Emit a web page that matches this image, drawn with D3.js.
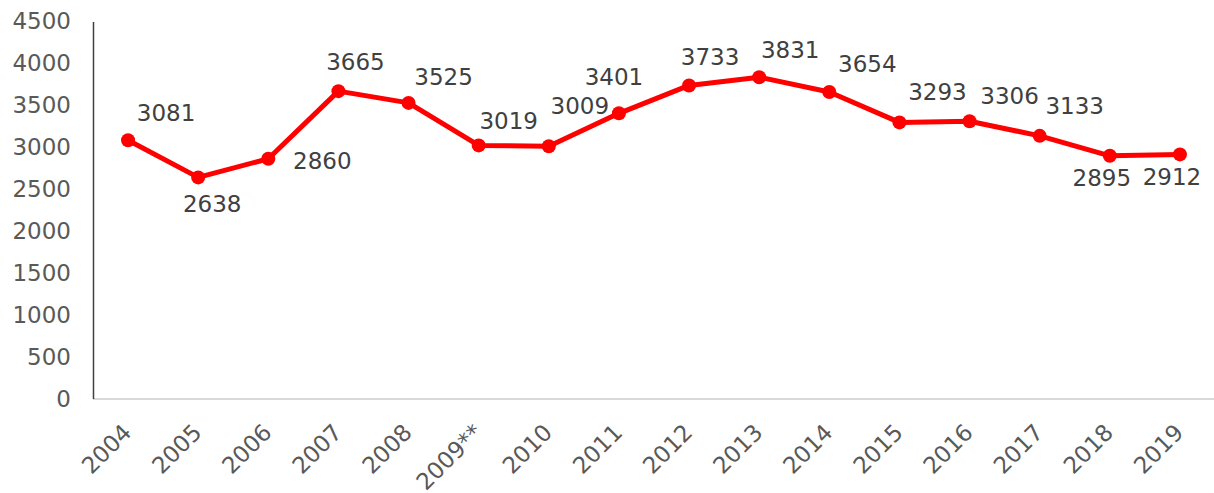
<!DOCTYPE html>
<html><head><meta charset="utf-8">
<script src="https://cdn.jsdelivr.net/npm/d3@7"></script>
<style>body{margin:0;background:#fff;} text{font-family:"DejaVu Sans",Verdana,sans-serif;}</style>
</head><body>
<svg id="c" width="1214" height="493"></svg>
<script>
(function(){
const years = ["2004","2005","2006","2007","2008","2009**","2010","2011","2012","2013","2014","2015","2016","2017","2018","2019"];
const values = [3081,2638,2860,3665,3525,3019,3009,3401,3733,3831,3654,3293,3306,3133,2895,2912];
const yTicks = [0,500,1000,1500,2000,2500,3000,3500,4000,4500];
// label offsets (dx, dy) relative to each point
const labelDx = [38,14,54,17,35,30,31,-5,21,31,38,38,40,35,-8,-8];
const labelDy = [-27,26,2,-29,-26,-25,-41,-37,-29,-27,-28,-31,-26,-30,22,22];

const svg = d3.select("#c");
const mLeft = 93, mRight = 1215, mTop = 21, mBottom = 399;
const x = d3.scaleBand().domain(years).range([mLeft, mRight]);
const y = d3.scaleLinear().domain([0,4500]).range([mBottom, mTop]);
const col = "#595959";

svg.append("line").attr("x1",mLeft).attr("x2",1214).attr("y1",mBottom).attr("y2",mBottom)
  .attr("stroke","#d9d9d9").attr("stroke-width",2);
svg.append("line").attr("x1",mLeft+0.5).attr("x2",mLeft+0.5).attr("y1",22).attr("y2",mBottom)
  .attr("stroke","#404040").attr("stroke-width",1.5);

svg.append("g").selectAll("text").data(yTicks).join("text")
  .attr("x",71).attr("y",d=>y(d)).attr("dy","0.36em").attr("text-anchor","end")
  .attr("fill",col).attr("font-size",23).text(d=>d);

svg.append("g").selectAll("text").data(years).join("text")
  .attr("transform",d=>`translate(${x(d)+x.bandwidth()/2-1},${428}) rotate(-45)`)
  .attr("text-anchor","end").attr("dy","0.36em")
  .attr("fill",col).attr("font-size",23).text(d=>d);

const cx = (d,i)=>x(years[i])+x.bandwidth()/2;
const line = d3.line().x((d,i)=>cx(d,i)).y(d=>y(d));
svg.append("path").datum(values).attr("d",line).attr("fill","none")
  .attr("stroke","#ff0000").attr("stroke-width",5).attr("stroke-linejoin","round");
svg.append("g").selectAll("circle").data(values).join("circle")
  .attr("cx",cx).attr("cy",d=>y(d)).attr("r",7).attr("fill","#ff0000");

svg.append("g").selectAll("text").data(values).join("text")
  .attr("x",(d,i)=>cx(d,i)+labelDx[i]).attr("y",(d,i)=>y(d)+labelDy[i])
  .attr("dy","0.36em").attr("text-anchor","middle")
  .attr("fill","#404040").attr("font-size",23).text(d=>d);
})();
</script>
</body></html>
